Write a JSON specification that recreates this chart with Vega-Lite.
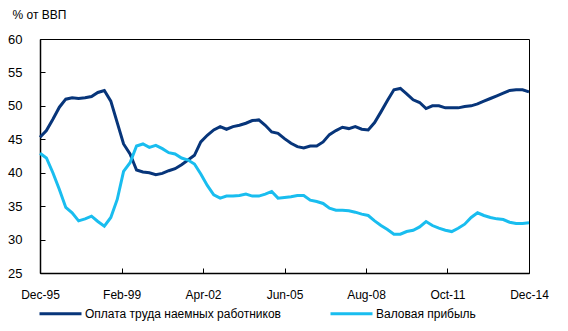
{
  "$schema": "https://vega.github.io/schema/vega-lite/v6.json",
  "width": 489,
  "height": 234,
  "autosize": {"type": "none"},
  "padding": {"left": 40, "top": 39, "right": 39, "bottom": 58},
  "background": "white",
  "config": {
    "font": "Liberation Sans, Arial, sans-serif",
    "view": {"stroke": "black", "strokeWidth": 1}
  },
  "data": {
    "format": {"parse": {"d": "date:'%Y-%m'"}},
    "values": [
      {"d": "1995-12", "w": 45.3, "p": 42.9},
      {"d": "1996-03", "w": 46.3, "p": 42.2},
      {"d": "1996-06", "w": 48.0, "p": 40.0},
      {"d": "1996-09", "w": 49.8, "p": 37.5},
      {"d": "1996-12", "w": 51.0, "p": 34.8},
      {"d": "1997-03", "w": 51.2, "p": 34.0},
      {"d": "1997-06", "w": 51.1, "p": 32.8},
      {"d": "1997-09", "w": 51.2, "p": 33.1},
      {"d": "1997-12", "w": 51.4, "p": 33.5},
      {"d": "1998-03", "w": 52.0, "p": 32.7},
      {"d": "1998-06", "w": 52.3, "p": 32.0},
      {"d": "1998-09", "w": 50.7, "p": 33.3},
      {"d": "1998-12", "w": 47.5, "p": 36.0},
      {"d": "1999-03", "w": 44.3, "p": 40.2},
      {"d": "1999-06", "w": 42.8, "p": 41.5},
      {"d": "1999-09", "w": 40.4, "p": 44.0},
      {"d": "1999-12", "w": 40.1, "p": 44.3},
      {"d": "2000-03", "w": 40.0, "p": 43.8},
      {"d": "2000-06", "w": 39.7, "p": 44.1},
      {"d": "2000-09", "w": 39.9, "p": 43.6},
      {"d": "2000-12", "w": 40.3, "p": 43.0},
      {"d": "2001-03", "w": 40.6, "p": 42.8},
      {"d": "2001-06", "w": 41.2, "p": 42.2},
      {"d": "2001-09", "w": 41.9, "p": 41.9},
      {"d": "2001-12", "w": 42.6, "p": 41.3},
      {"d": "2002-03", "w": 44.6, "p": 39.8},
      {"d": "2002-06", "w": 45.6, "p": 38.1},
      {"d": "2002-09", "w": 46.4, "p": 36.7},
      {"d": "2002-12", "w": 46.9, "p": 36.2},
      {"d": "2003-03", "w": 46.5, "p": 36.5},
      {"d": "2003-06", "w": 46.9, "p": 36.5},
      {"d": "2003-09", "w": 47.1, "p": 36.6},
      {"d": "2003-12", "w": 47.4, "p": 36.8},
      {"d": "2004-03", "w": 47.8, "p": 36.5},
      {"d": "2004-06", "w": 47.9, "p": 36.5},
      {"d": "2004-09", "w": 47.1, "p": 36.8},
      {"d": "2004-12", "w": 46.1, "p": 37.2},
      {"d": "2005-03", "w": 45.9, "p": 36.2},
      {"d": "2005-06", "w": 45.1, "p": 36.3},
      {"d": "2005-09", "w": 44.4, "p": 36.4},
      {"d": "2005-12", "w": 43.9, "p": 36.6},
      {"d": "2006-03", "w": 43.7, "p": 36.6},
      {"d": "2006-06", "w": 44.0, "p": 35.9},
      {"d": "2006-09", "w": 44.0, "p": 35.7},
      {"d": "2006-12", "w": 44.6, "p": 35.4},
      {"d": "2007-03", "w": 45.7, "p": 34.7},
      {"d": "2007-06", "w": 46.3, "p": 34.4},
      {"d": "2007-09", "w": 46.8, "p": 34.4},
      {"d": "2007-12", "w": 46.6, "p": 34.3},
      {"d": "2008-03", "w": 46.9, "p": 34.1},
      {"d": "2008-06", "w": 46.5, "p": 33.8},
      {"d": "2008-09", "w": 46.4, "p": 33.6},
      {"d": "2008-12", "w": 47.5, "p": 32.8},
      {"d": "2009-03", "w": 49.1, "p": 32.1},
      {"d": "2009-06", "w": 50.8, "p": 31.5},
      {"d": "2009-09", "w": 52.4, "p": 30.8},
      {"d": "2009-12", "w": 52.6, "p": 30.8},
      {"d": "2010-03", "w": 51.8, "p": 31.2},
      {"d": "2010-06", "w": 50.9, "p": 31.4},
      {"d": "2010-09", "w": 50.5, "p": 31.9},
      {"d": "2010-12", "w": 49.6, "p": 32.7},
      {"d": "2011-03", "w": 50.0, "p": 32.1},
      {"d": "2011-06", "w": 50.0, "p": 31.7},
      {"d": "2011-09", "w": 49.7, "p": 31.4},
      {"d": "2011-12", "w": 49.7, "p": 31.2},
      {"d": "2012-03", "w": 49.7, "p": 31.7},
      {"d": "2012-06", "w": 49.9, "p": 32.3},
      {"d": "2012-09", "w": 50.0, "p": 33.3},
      {"d": "2012-12", "w": 50.3, "p": 34.0},
      {"d": "2013-03", "w": 50.7, "p": 33.6},
      {"d": "2013-06", "w": 51.1, "p": 33.3},
      {"d": "2013-09", "w": 51.5, "p": 33.1},
      {"d": "2013-12", "w": 51.9, "p": 33.0},
      {"d": "2014-03", "w": 52.3, "p": 32.6},
      {"d": "2014-06", "w": 52.4, "p": 32.4},
      {"d": "2014-09", "w": 52.4, "p": 32.4},
      {"d": "2014-12", "w": 52.1, "p": 32.5}
    ]
  },
  "transform": [{"fold": ["w", "p"], "as": ["s", "v"]}],
  "mark": {"type": "line", "strokeWidth": 3},
  "encoding": {
    "x": {
      "field": "d",
      "type": "temporal",
      "scale": {"domain": [{"year": 1995, "month": 12, "date": 1}, {"year": 2014, "month": 12, "date": 1}]},
      "axis": {
        "values": [
          {"year": 1995, "month": 12, "date": 1},
          {"year": 1999, "month": 2, "date": 1},
          {"year": 2002, "month": 4, "date": 1},
          {"year": 2005, "month": 6, "date": 1},
          {"year": 2008, "month": 8, "date": 1},
          {"year": 2011, "month": 10, "date": 1},
          {"year": 2014, "month": 12, "date": 1}
        ],
        "format": "%b-%y",
        "title": null,
        "grid": false,
        "domainColor": "black",
        "domainWidth": 1.5,
        "tickColor": "black",
        "tickWidth": 1,
        "tickSize": -5,
        "labelPadding": 21,
        "labelFontSize": 12,
        "labelColor": "black",
        "labelFlush": false
      }
    },
    "y": {
      "field": "v",
      "type": "quantitative",
      "scale": {"domain": [25, 60], "nice": false, "zero": false},
      "axis": {
        "values": [25, 30, 35, 40, 45, 50, 55, 60],
        "title": "% от ВВП",
        "titleAngle": 0,
        "titleAlign": "left",
        "titleBaseline": "middle",
        "titleX": -28,
        "titleY": -25,
        "titleFontWeight": "normal",
        "titleFontSize": 12,
        "titleColor": "black",
        "grid": false,
        "domainColor": "black",
        "domainWidth": 1.5,
        "tickColor": "black",
        "tickSize": -5,
        "labelPadding": 23,
        "labelFontSize": 13,
        "labelColor": "black"
      }
    },
    "color": {
      "field": "s",
      "type": "nominal",
      "scale": {"domain": ["w", "p"], "range": ["#07357a", "#19bdef"]},
      "legend": {
        "orient": "none",
        "legendX": -2,
        "legendY": 252,
        "direction": "horizontal",
        "title": null,
        "symbolType": "stroke",
        "symbolSize": 1764,
        "symbolStrokeWidth": 3,
        "labelFontSize": 12,
        "labelColor": "black",
        "labelLimit": 300,
        "labelOffset": 2,
        "columnPadding": 43,
        "labelExpr": "datum.value == 'w' ? 'Оплата труда наемных работников' : 'Валовая прибыль'"
      }
    }
  }
}
